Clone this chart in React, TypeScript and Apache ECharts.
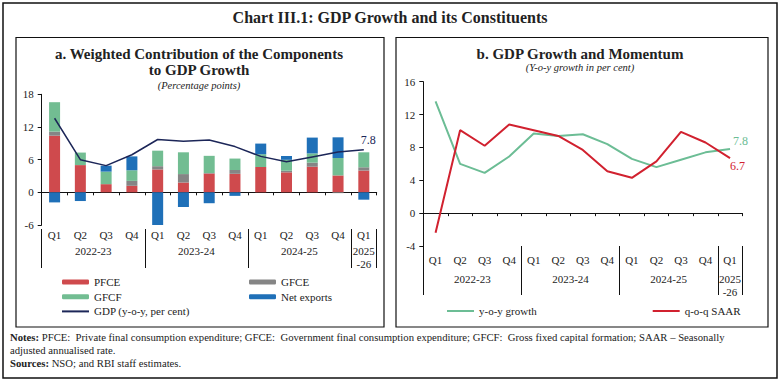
import React, { useEffect, useRef } from "react";
import * as echarts from "echarts";

const quarters = ["Q1", "Q2", "Q3", "Q4", "Q1", "Q2", "Q3", "Q4", "Q1", "Q2", "Q3", "Q4", "Q1"];
const years = ["2022-23", "2023-24", "2024-25", "2025\n-26"];
const yearCenters = [2, 6, 10, 12.5];
const yearBounds = [0, 4, 8, 12, 13];

const pfce = [10.4, 5.0, 1.5, 1.2, 4.2, 1.8, 3.45, 3.4, 4.65, 3.67, 4.7, 3.1, 4.0];
const gfce = [0.75, 0, 0, 0.9, 0.6, 1.55, 0.1, 0.7, 0, 0.3, 0.75, -0.15, 0.6];
const gfcf = [5.4, 2.3, 2.3, 1.95, 2.85, 4.0, 3.15, 2.1, 2.35, 2.0, 1.7, 3.2, 2.75];
const netExports = [-1.85, -1.6, 1.1, 2.55, -6.2, -2.7, -2.0, -0.65, 1.95, 0.7, 2.9, 3.8, -1.35];

const gdpYoy = [13.6, 6.0, 4.9, 6.9, 9.7, 9.4, 9.6, 8.4, 6.6, 5.6, 6.5, 7.4, 7.8];
const qoqSaar = [-2.4, 10.1, 8.2, 10.8, 10.1, 9.4, 7.7, 5.1, 4.3, 6.3, 9.9, 8.6, 6.7];

const leftAxis = { min: -6, max: 18, interval: 6 };
const rightAxis = { min: -4, max: 16, interval: 4 };

const FONT = "Liberation Serif";
const TXT = "#222";
const C_PFCE = "#cf4a4d";
const C_GFCE = "#858585";
const C_GFCF = "#72bd92";
const C_NX = "#1f70b8";
const C_GDP = "#1c2658";
const C_YOY = "#6cbd95";
const C_QOQ = "#d1212f";

function xAxesFor(grid: number, labelMargin: number, yearOffset: number, tickLen: number, yearMargin: number) {
  return [
    {
      type: "category",
      gridIndex: grid,
      data: quarters,
      position: "bottom",
      axisLine: { show: false, onZero: false },
      axisTick: { show: false },
      axisLabel: { margin: labelMargin, fontFamily: FONT, fontSize: 11, lineHeight: 13, color: TXT, interval: 0 },
    },
    {
      type: "category",
      gridIndex: grid,
      data: quarters,
      position: "bottom",
      axisLine: { show: true, onZero: true, lineStyle: { color: "#111", width: 1 } },
      axisTick: { show: true, length: 3, lineStyle: { color: "#111" } },
      axisLabel: { show: false },
    },
    {
      type: "value",
      gridIndex: grid,
      min: 0,
      max: 13,
      position: "bottom",
      offset: yearOffset,
      splitLine: { show: false },
      axisLine: { show: false, onZero: false },
      axisTick: { show: true, customValues: yearBounds, length: tickLen, lineStyle: { color: "#111", width: 1 } },
      axisLabel: {
        customValues: yearCenters,
        formatter: (v: number) => years[yearCenters.indexOf(v)] ?? "",
        margin: yearMargin,
        fontFamily: FONT,
        fontSize: 11,
        lineHeight: 13,
        color: TXT,
      },
    },
  ];
}

function yAxisFor(grid: number, range: { min: number; max: number; interval: number }) {
  return {
    type: "value",
    gridIndex: grid,
    min: range.min,
    max: range.max,
    interval: range.interval,
    splitLine: { show: false },
    axisLine: { show: true, onZero: false, lineStyle: { color: "#111", width: 1 } },
    axisTick: { show: true, length: 4, lineStyle: { color: "#111" } },
    axisLabel: { margin: 8, fontFamily: FONT, fontSize: 11, color: TXT },
  };
}

function endLabel(color: string, offset: number[]) {
  return {
    show: true,
    distance: 5,
    offset,
    formatter: (p: any) => Number(p.value).toFixed(1),
    fontFamily: FONT,
    fontSize: 12,
    color,
  };
}

export default function App() {
  const ref = useRef<HTMLDivElement>(null);
  useEffect(() => {
    if (!ref.current) return;
    const chart = echarts.init(ref.current, null, { renderer: "svg" });
    const legendText = { fontFamily: FONT, fontSize: 11, color: TXT, lineHeight: 12 };
    const hiddenSymbol = { opacity: 0 };
    const option: any = {
      animation: false,
      backgroundColor: "#fff",
      grid: [
        { left: 41.7, top: 94.3, width: 335, height: 130.7 },
        { left: 423.3, top: 81.7, width: 319, height: 164.3 },
      ],
      xAxis: [...xAxesFor(0, 3.5, 4, 39, 15.5), ...xAxesFor(1, 7.5, 0, 49, 26)],
      yAxis: [yAxisFor(0, leftAxis), yAxisFor(1, rightAxis)],
      legend: [
        {
          left: 56, top: 271, orient: "vertical", itemWidth: 27, itemHeight: 5, itemGap: 2.7,
          selectedMode: false, textStyle: legendText,
          data: ["PFCE", "GFCF", { name: "GDP (y-o-y, per cent)", itemStyle: hiddenSymbol }],
        },
        {
          left: 244, top: 271, orient: "vertical", itemWidth: 27, itemHeight: 5, itemGap: 2.7,
          selectedMode: false, textStyle: legendText,
          data: ["GFCE", "Net exports"],
        },
        {
          left: 441, top: 300, itemWidth: 27, itemHeight: 5, selectedMode: false, textStyle: legendText,
          data: [{ name: "y-o-y growth", itemStyle: hiddenSymbol }],
        },
        {
          left: 646.7, top: 300, itemWidth: 27, itemHeight: 5, selectedMode: false, textStyle: legendText,
          data: [{ name: "q-o-q SAAR", itemStyle: hiddenSymbol }],
        },
      ],
      series: [
        { name: "PFCE", type: "bar", stack: "c", xAxisIndex: 0, yAxisIndex: 0, barWidth: 11, itemStyle: { color: C_PFCE }, data: pfce },
        { name: "GFCE", type: "bar", stack: "c", xAxisIndex: 0, yAxisIndex: 0, barWidth: 11, itemStyle: { color: C_GFCE }, data: gfce },
        { name: "GFCF", type: "bar", stack: "c", xAxisIndex: 0, yAxisIndex: 0, barWidth: 11, itemStyle: { color: C_GFCF }, data: gfcf },
        { name: "Net exports", type: "bar", stack: "c", xAxisIndex: 0, yAxisIndex: 0, barWidth: 11, itemStyle: { color: C_NX }, data: netExports },
        {
          name: "GDP (y-o-y, per cent)", type: "line", xAxisIndex: 0, yAxisIndex: 0, symbol: "none", z: 5,
          lineStyle: { color: C_GDP, width: 1.5 }, itemStyle: { color: C_GDP },
          endLabel: endLabel(C_GDP, [-8, -10]),
          data: gdpYoy,
        },
        {
          name: "y-o-y growth", type: "line", xAxisIndex: 3, yAxisIndex: 1, symbol: "none",
          lineStyle: { color: C_YOY, width: 2 }, itemStyle: { color: C_YOY },
          endLabel: endLabel(C_YOY, [-2, -8]),
          data: gdpYoy,
        },
        {
          name: "q-o-q SAAR", type: "line", xAxisIndex: 3, yAxisIndex: 1, symbol: "none",
          lineStyle: { color: C_QOQ, width: 2 }, itemStyle: { color: C_QOQ },
          endLabel: endLabel(C_QOQ, [-5, 8]),
          data: qoqSaar,
        },
      ],
      graphic: [
        { type: "rect", z: -1, shape: { x: 3, y: 3, width: 774, height: 375 }, style: { fill: "none", stroke: "#111", lineWidth: 1.5 } },
        { type: "rect", z: -1, shape: { x: 16, y: 37.5, width: 368, height: 289.5 }, style: { fill: "none", stroke: "#111", lineWidth: 1.2 } },
        { type: "rect", z: -1, shape: { x: 396, y: 37.5, width: 372, height: 289.5 }, style: { fill: "none", stroke: "#111", lineWidth: 1.2 } },
        {
          type: "text", x: 390, y: 17,
          style: { text: "Chart III.1: GDP Growth and its Constituents", fontFamily: FONT, fontSize: 16, fontWeight: "bold", fill: TXT, align: "center", verticalAlign: "middle" },
        },
        {
          type: "text", x: 199, y: 54,
          style: { text: "a. Weighted Contribution of the Components", fontFamily: FONT, fontSize: 15, fontWeight: "bold", fill: TXT, align: "center", verticalAlign: "middle" },
        },
        {
          type: "text", x: 199, y: 70,
          style: { text: "to GDP Growth", fontFamily: FONT, fontSize: 15, fontWeight: "bold", fill: TXT, align: "center", verticalAlign: "middle" },
        },
        {
          type: "text", x: 199, y: 85,
          style: { text: "(Percentage points)", fontFamily: FONT, fontSize: 10.5, fontStyle: "italic", fill: TXT, align: "center", verticalAlign: "middle" },
        },
        {
          type: "text", x: 580, y: 53.5,
          style: { text: "b. GDP Growth and Momentum", fontFamily: FONT, fontSize: 15, fontWeight: "bold", fill: TXT, align: "center", verticalAlign: "middle" },
        },
        {
          type: "text", x: 580, y: 67.5,
          style: { text: "(Y-o-y growth in per cent)", fontFamily: FONT, fontSize: 10.5, fontStyle: "italic", fill: TXT, align: "center", verticalAlign: "middle" },
        },
        {
          type: "text", x: 10, y: 331,
          style: {
            text:
              "{b|Notes:} PFCE:  Private final consumption expenditure; GFCE:  Government final consumption expenditure; GFCF:  Gross fixed capital formation; SAAR – Seasonally\nadjusted annualised rate.\n{b|Sources:} NSO; and RBI staff estimates.",
            fontFamily: FONT, fontSize: 10.7, lineHeight: 12.8, fill: TXT, align: "left", verticalAlign: "top",
            rich: { b: { fontFamily: FONT, fontSize: 10.7, fontWeight: "bold", fill: TXT, lineHeight: 12.8 } },
          },
        },
      ],
    };
    chart.setOption(option);
    return () => chart.dispose();
  }, []);
  return (
    <div
      ref={ref}
      style={{ position: "fixed", left: 0, top: 0, width: 780, height: 381, background: "#fff" }}
    />
  );
}
